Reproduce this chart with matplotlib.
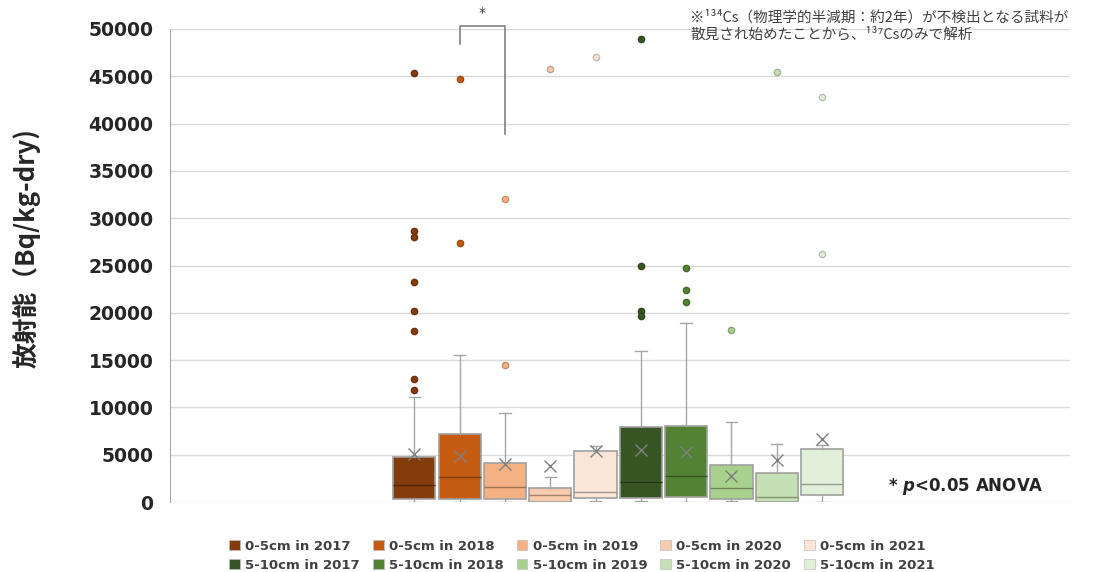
import matplotlib
matplotlib.use("Agg")
import matplotlib.pyplot as plt
import matplotlib.colors as mcolors
from matplotlib.patches import Patch

plt.rcParams['font.family'] = ['DejaVu Sans']
plt.rcParams['mathtext.fontset'] = 'custom'
plt.rcParams['mathtext.it'] = 'DejaVu Sans:italic:bold'
plt.rcParams['mathtext.rm'] = 'DejaVu Sans:bold'

# series labels (depth / year)
labels = ["0-5cm in 2017", "0-5cm in 2018", "0-5cm in 2019", "0-5cm in 2020", "0-5cm in 2021",
          "5-10cm in 2017", "5-10cm in 2018", "5-10cm in 2019", "5-10cm in 2020", "5-10cm in 2021"]
colors = ["#843C0C", "#C55A11", "#F4B183", "#F8CBAD", "#FBE5D6",
          "#375623", "#548235", "#A9D18E", "#C5E0B4", "#E2F0D9"]

# box statistics (Bq/kg-dry)
q1 = [320, 320, 290, 30, 390, 390, 560, 290, 30, 710]
med = [1800, 2640, 1590, 710, 1060, 2110, 2780, 1450, 560, 1930]
q3 = [4790, 7160, 4160, 1450, 5420, 7930, 8070, 3910, 3060, 5600]
whislo = [30, 30, 30, 20, 60, 60, 30, 60, 20, 40]
whishi = [11100, 15570, 9440, 2640, 5920, 15960, 18920, 8420, 6150, 6030]
means = [5070, 4890, 3990, 3800, 5390, 5500, 5290, 2720, 4410, 6660]
fliers = [
    [45350, 28680, 27980, 23250, 20190, 18080, 13000, 11840],
    [44680, 27410],
    [32000, 14480],
    [45800],
    [47000],
    [48900, 24980, 20220, 19660],
    [24700, 22440, 21110],
    [18210],
    [45480],
    [42840, 26250],
]

note = "※¹³⁴Cs（物理学的半減期：約2年）が不検出となる試料が\n散見され始めたことから、¹³⁷Csのみで解析"


def darker(c, f):
    r, g, b = mcolors.to_rgb(c)
    return (r * f, g * f, b * f)


stats = []
for i in range(len(labels)):
    stats.append(dict(label=labels[i], q1=q1[i], med=med[i], q3=q3[i],
                      whislo=whislo[i], whishi=whishi[i], mean=means[i], fliers=fliers[i]))

fig = plt.figure(figsize=(10.97, 5.72), dpi=100)
ax = fig.add_axes([170 / 1097, 1 - 502 / 572, 900 / 1097, 473 / 572])

positions = list(range(len(labels)))
bp = ax.bxp(stats, positions=positions, widths=0.93, patch_artist=True, showmeans=True,
            capwidths=0.25, manage_ticks=False,
            whiskerprops=dict(color="#A6A6A6", lw=1),
            capprops=dict(color="#A6A6A6", lw=1),
            meanprops=dict(marker="x", markersize=9, markeredgecolor="#7F7F7F", markeredgewidth=1),
            medianprops=dict(lw=1))

for i, c in enumerate(colors):
    bp['boxes'][i].set_facecolor(c)
    bp['boxes'][i].set_edgecolor("#A0A0A0")
    bp['boxes'][i].set_linewidth(1.2)
    bp['medians'][i].set_color(darker(c, 0.65))
    bp['fliers'][i].set_marker("o")
    bp['fliers'][i].set_markersize(4.5)
    bp['fliers'][i].set_markerfacecolor(c)
    bp['fliers'][i].set_markeredgecolor(darker(c, 0.8))

ax.set_xlim(-5.39, 14.47)
ax.set_ylim(0, 50000)
ax.set_yticks(range(0, 50001, 5000))
ax.set_xticks([])
ax.grid(axis="y", color="#D9D9D9", lw=1)
ax.set_axisbelow(True)
for s in ["top", "right", "bottom"]:
    ax.spines[s].set_visible(False)
ax.spines["left"].set_color("#A6A6A6")
ax.tick_params(axis="y", length=0, pad=12, labelsize=13.5, labelcolor="#262626")
for t in ax.get_yticklabels():
    t.set_fontweight("bold")

# significance bracket between 2018 and 2019 (0-5cm)
ax.plot([1, 1, 2, 2], [48400, 50350, 50350, 38870], color="#808080", lw=1.2, clip_on=False)
ax.text(1.5, 50900, "*", ha="center", va="bottom", fontsize=10, color="#404040", clip_on=False)

ax.text(10.46, 1600, r"* $p$<0.05 ANOVA", fontsize=12, fontweight="bold", va="center",
        color="#262626")

fig.text(690 / 1097, 1 - 10 / 572, note, ha="left", va="top", fontsize=10.5, color="#404040",
         family=["Noto Sans CJK JP", "DejaVu Sans"], linespacing=1.25)

fig.text(27 / 1097, 1 - 248 / 572, "放射能（Bq/kg-dry)", rotation=90, ha="center", va="center",
         fontsize=18.5, fontweight="bold", color="#262626", family="Noto Sans CJK JP")

# legend filled row by row (matplotlib fills columns first)
order = [0, 5, 1, 6, 2, 7, 3, 8, 4, 9]
handles = [Patch(facecolor=colors[i], edgecolor="#BFBFBF", lw=0.5) for i in order]
fig.legend(handles, [labels[i] for i in order], ncol=5, loc="center",
           bbox_to_anchor=(582 / 1097, 1 - 556 / 572),
           frameon=False, prop=dict(weight="bold", size=9.5), handlelength=0.8, handleheight=0.8,
           handletextpad=0.4, columnspacing=1.0, labelspacing=0.45, labelcolor="#404040")

fig.savefig("out.png", dpi=100)
